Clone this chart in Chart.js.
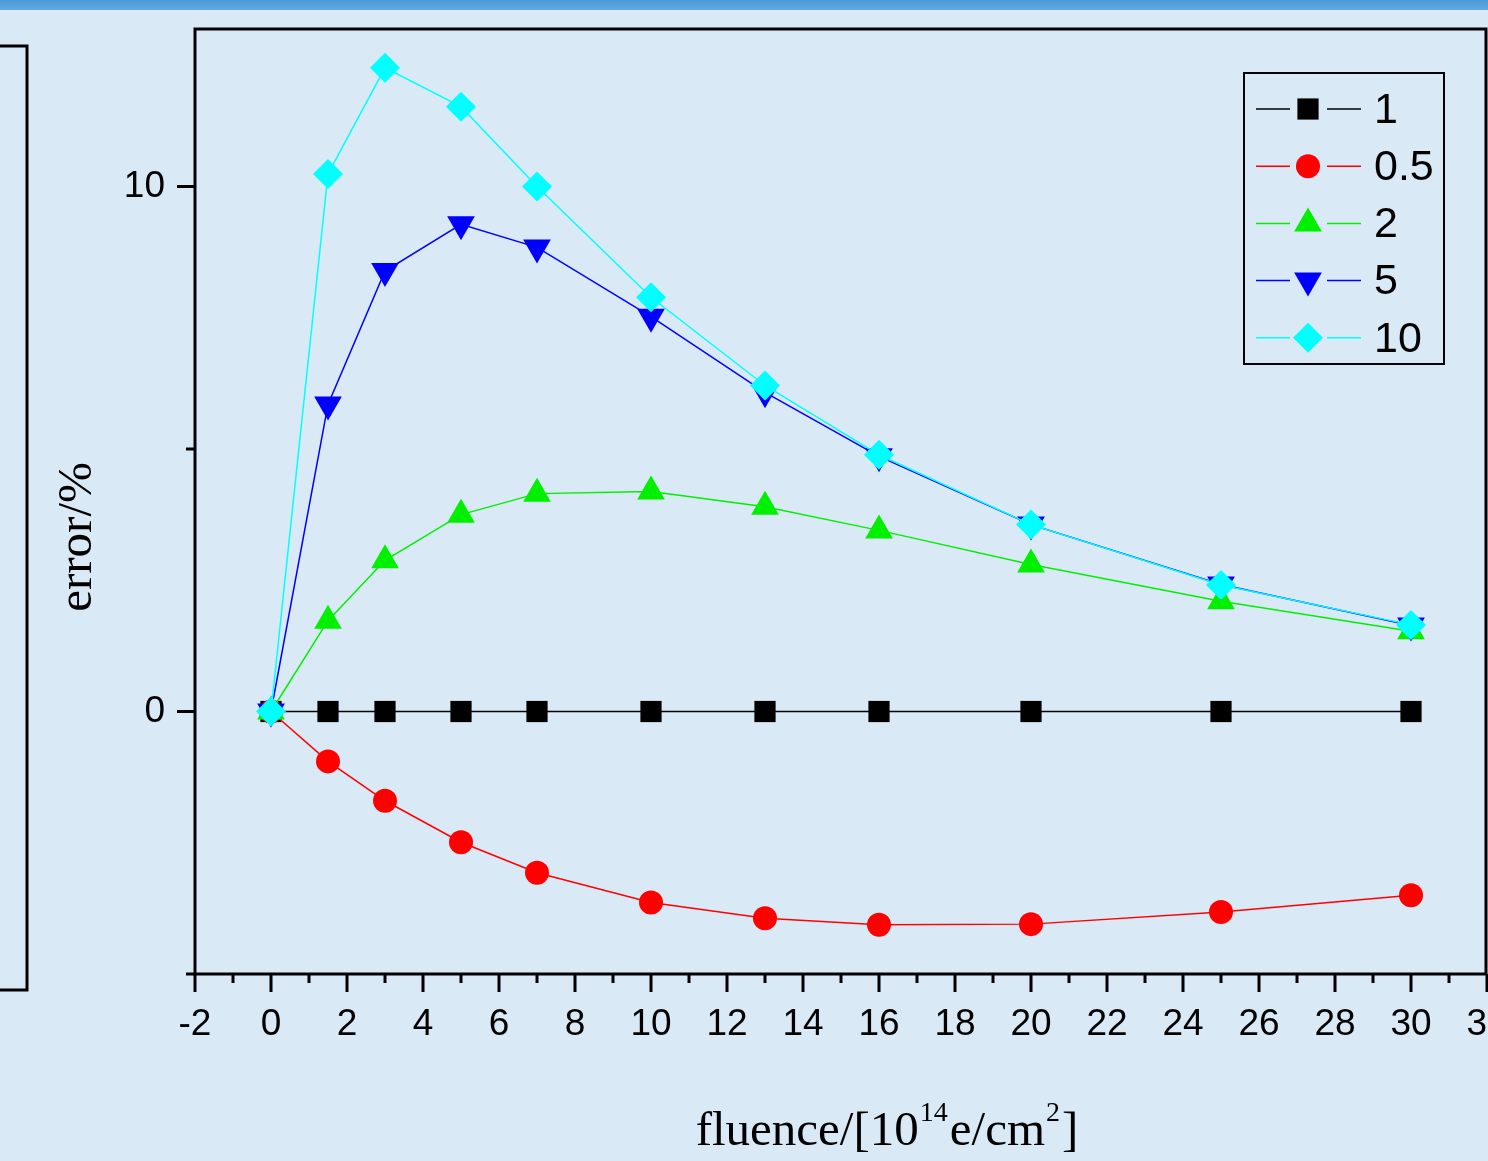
<!DOCTYPE html>
<html>
<head>
<meta charset="utf-8">
<script src="https://cdn.jsdelivr.net/npm/chart.js@4.4.1/dist/chart.umd.min.js"></script>
<style>
  html, body { margin: 0; padding: 0; background: #dae9f6; }
  #wrap { width: 1488px; height: 1161px; position: relative; }
</style>
</head>
<body>
<div id="wrap"><canvas id="errChart" width="1488" height="1161"></canvas></div>
<script>
// fluence in 10^14 e/cm^2, error in %
const fluence = [0, 1.5, 3, 5, 7, 10, 13, 16, 20, 25, 30];
const err1 = [0, 0, 0, 0, 0, 0, 0, 0, 0, 0, 0];
const err05 = [0, -0.95, -1.70, -2.49, -3.07, -3.64, -3.94, -4.06, -4.05, -3.82, -3.50];
const err2 = [0, 1.73, 2.88, 3.75, 4.15, 4.19, 3.90, 3.45, 2.80, 2.10, 1.53];
const err5 = [0, 5.85, 8.39, 9.28, 8.84, 7.52, 6.08, 4.86, 3.56, 2.42, 1.64];
const err10 = [0, 10.24, 12.26, 11.52, 10.0, 7.89, 6.21, 4.89, 3.56, 2.41, 1.65];
const seriesNames = ["1", "0.5", "2", "5", "10"];
const yLabelTicks = [0, 10];

const serif = "'Liberation Serif', 'Times New Roman', serif";
const sans = "'Liberation Sans', Arial, sans-serif";

const styles = [
  { color: "#000000", pointStyle: "rect", radius: 15, rotation: 0 },
  { color: "#ff0000", pointStyle: "circle", radius: 12, rotation: 0 },
  { color: "#00f000", pointStyle: "triangle", radius: 16, rotation: 0 },
  { color: "#0000ff", pointStyle: "triangle", radius: 16, rotation: 180 },
  { color: "#00ffff", pointStyle: "rectRot", radius: 15, rotation: 0 },
];
const allSeries = [err1, err05, err2, err5, err10];

const datasets = allSeries.map((vals, i) => ({
  label: seriesNames[i],
  data: fluence.map((f, j) => ({ x: f, y: vals[j] })),
  borderColor: styles[i].color,
  backgroundColor: styles[i].color,
  borderWidth: 1.5,
  pointStyle: styles[i].pointStyle,
  pointRadius: styles[i].radius,
  pointRotation: styles[i].rotation,
  pointBorderWidth: 0,
  pointBackgroundColor: styles[i].color,
  tension: 0,
  order: 5 - i,
  clip: false,
}));

// background, top bar, neighbouring frame
const backdrop = {
  id: "backdrop",
  beforeDraw(chart) {
    const ctx = chart.ctx;
    ctx.save();
    ctx.fillStyle = "#dae9f6";
    ctx.fillRect(0, 0, chart.width, chart.height);
    const g = ctx.createLinearGradient(0, 0, 0, 11);
    g.addColorStop(0, "#4a9ad8");
    g.addColorStop(1, "#62abe0");
    ctx.fillStyle = g;
    ctx.fillRect(0, 0, chart.width, 10);
    ctx.strokeStyle = "#000";
    ctx.lineWidth = 3;
    ctx.beginPath();
    ctx.moveTo(0, 46);
    ctx.lineTo(27, 46);
    ctx.lineTo(27, 990);
    ctx.lineTo(0, 990);
    ctx.stroke();
    ctx.restore();
  },
};

// frame, ticks, titles, legend
const decorations = {
  id: "decorations",
  afterDraw(chart) {
    const ctx = chart.ctx;
    const xs = chart.scales.x;
    const ys = chart.scales.y;
    const a = chart.chartArea;
    ctx.save();
    ctx.strokeStyle = "#000";
    ctx.lineWidth = 3;
    ctx.beginPath();
    ctx.rect(a.left, a.top, a.right - a.left - 1, a.bottom - a.top);
    ctx.stroke();

    ctx.beginPath();
    for (let v = -2; v <= 32; v++) {
      const px = xs.getPixelForValue(v);
      const len = v % 2 === 0 ? 18 : 9;
      ctx.moveTo(px, a.bottom);
      ctx.lineTo(px, a.bottom + len);
    }
    for (let v = -5; v <= 10; v += 5) {
      const py = ys.getPixelForValue(v);
      const len = v % 10 === 0 ? 18 : 9;
      ctx.moveTo(a.left, py);
      ctx.lineTo(a.left - len, py);
    }
    ctx.stroke();

    // y title
    ctx.fillStyle = "#000";
    ctx.font = "49px " + serif;
    ctx.textAlign = "center";
    ctx.textBaseline = "alphabetic";
    ctx.save();
    ctx.translate(91, 537);
    ctx.rotate(-Math.PI / 2);
    ctx.fillText("error/%", 0, 0);
    ctx.restore();

    // x title with superscripts
    const parts = [
      ["fluence/[10", false],
      ["14", true],
      ["e/cm", false],
      ["2", true],
      ["]", false],
    ];
    const bigFont = "49px " + serif;
    const supFont = "28px " + serif;
    let total = 0;
    const widths = parts.map(([t, sup]) => {
      ctx.font = sup ? supFont : bigFont;
      const w = ctx.measureText(t).width + (sup ? 3 : 0);
      total += w;
      return w;
    });
    let cx = 887 - total / 2;
    ctx.textAlign = "left";
    parts.forEach(([t, sup], i) => {
      ctx.font = sup ? supFont : bigFont;
      ctx.fillText(t, cx + (sup ? 1 : 0), sup ? 1121 : 1145);
      cx += widths[i];
    });

    // legend
    ctx.lineWidth = 2;
    ctx.strokeRect(1244, 73, 200, 291);
    styles.forEach((s, i) => {
      const y = 109 + i * 57.2;
      ctx.strokeStyle = s.color;
      ctx.lineWidth = 1.5;
      ctx.beginPath();
      ctx.moveTo(1256, y);
      ctx.lineTo(1290, y);
      ctx.moveTo(1327, y);
      ctx.lineTo(1361, y);
      ctx.stroke();
      ctx.fillStyle = s.color;
      Chart.helpers.drawPoint(ctx, {
        pointStyle: s.pointStyle,
        radius: s.radius,
        rotation: s.rotation,
        borderWidth: 0,
      }, 1308, y);
      ctx.fillStyle = "#000";
      ctx.font = "43px " + sans;
      ctx.textAlign = "left";
      ctx.textBaseline = "middle";
      ctx.fillText(seriesNames[i], 1374, y + 2);
    });
    ctx.restore();
  },
};

const ctx = document.getElementById("errChart").getContext("2d");
const errChart = new Chart(ctx, {
  type: "line",
  data: { datasets: datasets },
  plugins: [backdrop, decorations],
  options: {
    responsive: false,
    animation: false,
    devicePixelRatio: 1,
    layout: { autoPadding: false, padding: { top: 29, right: 1, left: 0, bottom: 0 } },
    plugins: {
      legend: { display: false },
      tooltip: { enabled: false },
    },
    scales: {
      x: {
        type: "linear",
        min: -2,
        max: 32,
        grid: { display: false, drawTicks: false },
        border: { display: false },
        ticks: {
          stepSize: 2,
          autoSkip: false,
          maxRotation: 0,
          padding: 29,
          color: "#000",
          font: { family: sans, size: 37 },
        },
        afterFit(s) {
          s.height = 187;
          s.paddingLeft = 0;
          s.paddingRight = 0;
        },
      },
      y: {
        type: "linear",
        min: -5,
        max: 13,
        grid: { display: false, drawTicks: false },
        border: { display: false },
        ticks: {
          stepSize: 5,
          padding: 30,
          color: "#000",
          font: { family: sans, size: 37 },
          callback: (v) => (yLabelTicks.includes(v) ? String(v) : ""),
        },
        afterFit(s) {
          s.width = 195;
          s.paddingTop = 0;
          s.paddingBottom = 0;
        },
      },
    },
  },
});
</script>
</body>
</html>
